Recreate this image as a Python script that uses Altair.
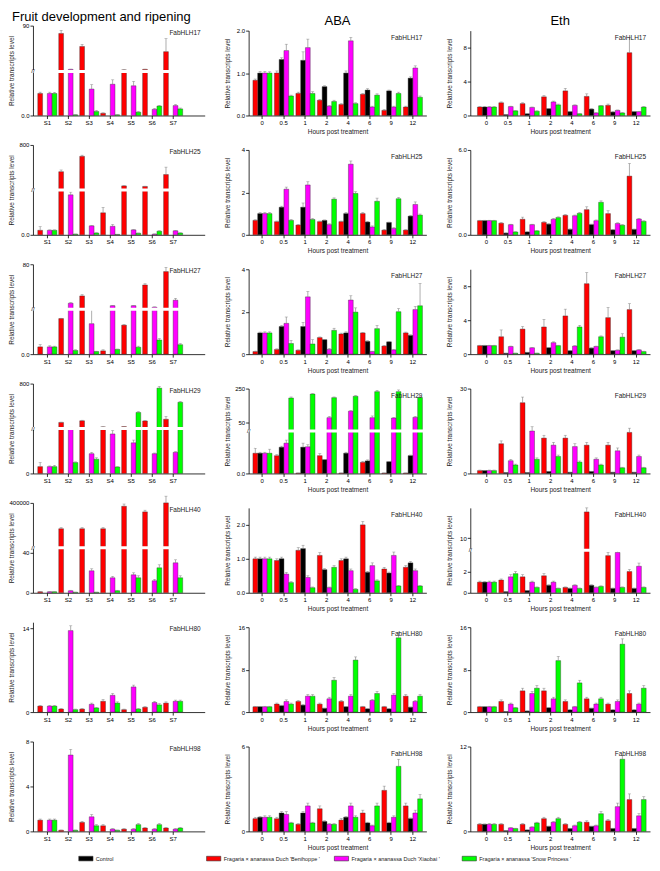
import altair as alt
import pandas as pd

FONT = "Liberation Sans"
GENOTYPES = ["Control", "Fragaria × ananassa Duch 'Benihoppe '",
             "Fragaria × ananassa Duch 'Xiaobai '", "Fragaria × ananassa 'Snow Princess '"]
COLORS = ["#000000", "#ff0000", "#ff00ff", "#00ff00"]
STAGES = ["S1", "S2", "S3", "S4", "S5", "S6", "S7"]
HOURS = ["0", "0.5", "1", "2", "4", "6", "9", "12"]
GENES = ["FabHLH17", "FabHLH25", "FabHLH27", "FabHLH29", "FabHLH40", "FabHLH80", "FabHLH98"]
COLUMN_TITLES = ["Fruit development and ripening", "ABA", "Eth"]

# ---------------- Fruit development (red, magenta, green) ----------------
fruit_17 = [[1.0, 75, 50, 0.1, 5, 6, 40], [1.0, 6, 1.2, 1.42, 1.35, 0.28, 0.45], [1.0, 0.03, 0.18, 0.03, 0.15, 0.43, 0.3]]
fruit_17_err = [[0.06, 6, 4, 0.02, 0.5, 0.5, 25], [0.06, 0.5, 0.2, 0.2, 0.2, 0.04, 0.05], [0.05, 0.01, 0.05, 0.01, 0.03, 0.03, 0.04]]
fruit_25 = [[1.0, 330, 600, 4.9, 80, 70, 280], [1.0, 8.9, 2.0, 1.9, 1.1, 0.15, 0.9], [1.0, 0.15, 0.4, 0.1, 0.35, 0.8, 0.4]]
fruit_25_err = [[0.8, 30, 20, 1.2, 5, 5, 130], [0.1, 0.6, 0.1, 0.4, 0.1, 0.05, 0.1], [0.1, 0.02, 0.05, 0.02, 0.05, 0.1, 0.05]]
fruit_27 = [[1.0, 4.9, 28, 0.45, 4.0, 46, 68], [1.0, 16, 4.2, 12, 12, 9.5, 21], [1.0, 0.5, 0.35, 0.65, 0.95, 1.95, 1.3]]
fruit_27_err = [[0.3, 0.05, 2, 0.15, 0.1, 2, 7], [0.15, 1, 3, 0.5, 0.5, 0.5, 3], [0.1, 0.1, 0.05, 0.05, 0.15, 0.2, 0.15]]
fruit_29 = [[1.0, 114, 143, 35, 40, 140, 170], [1.0, 25, 2.9, 5.8, 4.5, 2.9, 3.1], [1.0, 1.6, 2.1, 0.95, 290, 720, 470]]
fruit_29_err = [[0.6, 5, 10, 3, 3, 8, 50], [0.1, 2, 0.2, 0.5, 0.4, 0.1, 0.1], [0.2, 0.1, 0.2, 0.05, 15, 30, 15]]
fruit_40 = [[1.0, 170000, 170000, 170000, 370000, 320000, 400000], [1.0, 2, 22, 15, 18, 12, 30], [1.0, 0.5, 0.5, 2, 15, 25, 15]]
fruit_40_err = [[0.3, 10000, 10000, 10000, 20000, 15000, 60000], [0.2, 0.5, 2, 1.5, 2, 1.5, 3], [0.2, 0.1, 0.1, 0.5, 2, 3, 2]]
fruit_80 = [[1.0, 0.5, 0.5, 1.8, 0.4, 0.8, 1.5], [1.0, 13.6, 1.3, 2.8, 4.2, 1.6, 1.8], [1.0, 0.4, 0.7, 1.5, 0.5, 1.2, 1.8]]
fruit_80_err = [[0.1, 0.1, 0.1, 0.3, 0.1, 0.1, 0.2], [0.1, 0.8, 0.2, 0.3, 0.3, 0.2, 0.2], [0.1, 0.1, 0.1, 0.2, 0.1, 0.2, 0.2]]
fruit_98 = [[1.0, 0.1, 0.8, 0.5, 0.2, 0.3, 0.3], [1.0, 6.8, 1.3, 0.2, 0.2, 0.2, 0.2], [1.0, 0.1, 0.5, 0.1, 0.6, 0.6, 0.3]]
fruit_98_err = [[0.1, 0.02, 0.1, 0.1, 0.05, 0.05, 0.05], [0.1, 0.5, 0.2, 0.05, 0.05, 0.05, 0.05], [0.1, 0.02, 0.1, 0.02, 0.1, 0.1, 0.05]]

# ---------------- ABA (control, red, magenta, green) ----------------
aba_17 = [[1.0, 1.32, 1.3, 0.68, 1.0, 0.6, 0.58, 0.88], [0.83, 1.0, 0.52, 0.36, 0.26, 0.5, 0.12, 0.2],
          [1.0, 1.53, 1.6, 0.22, 1.76, 0.2, 0.2, 1.12], [1.0, 0.46, 0.52, 0.33, 0.28, 0.48, 0.52, 0.43]]
aba_17_err = [[0.04, 0.04, 0.2, 0.02, 0.05, 0.03, 0.02, 0.03], [0.03, 0.05, 0.03, 0.02, 0.02, 0.02, 0.02, 0.02],
              [0.04, 0.15, 0.2, 0.02, 0.08, 0.02, 0.02, 0.05], [0.03, 0.02, 0.04, 0.03, 0.02, 0.03, 0.03, 0.03]]
aba_25 = [[1.0, 1.3, 1.3, 0.68, 1.0, 0.6, 0.58, 0.88], [0.68, 0.62, 0.46, 0.62, 0.62, 1.0, 0.22, 0.22],
          [1.0, 2.15, 2.35, 0.48, 3.33, 0.37, 0.3, 1.43], [1.0, 0.68, 0.72, 1.68, 1.95, 1.58, 1.7, 0.93]]
aba_25_err = [[0.05, 0.05, 0.2, 0.02, 0.05, 0.03, 0.02, 0.03], [0.03, 0.03, 0.03, 0.03, 0.03, 0.05, 0.03, 0.02],
              [0.05, 0.1, 0.15, 0.04, 0.15, 0.05, 0.04, 0.12], [0.05, 0.04, 0.05, 0.06, 0.08, 0.15, 0.06, 0.05]]
aba_27 = [[1.0, 1.3, 1.3, 0.68, 1.0, 0.6, 0.58, 0.88], [0.12, 0.22, 0.18, 0.78, 0.95, 1.0, 0.38, 1.0],
          [1.0, 1.45, 2.7, 0.22, 2.55, 0.12, 0.2, 2.1], [1.0, 0.5, 0.48, 1.12, 1.98, 1.2, 2.0, 2.28]]
aba_27_err = [[0.04, 0.05, 0.2, 0.02, 0.05, 0.03, 0.02, 0.03], [0.02, 0.03, 0.02, 0.03, 0.04, 0.03, 0.03, 0.04],
              [0.05, 0.3, 0.25, 0.05, 0.2, 0.02, 0.03, 0.15], [0.05, 0.15, 0.2, 0.1, 0.2, 0.15, 0.15, 1.05]]
aba_29 = [[1.0, 1.3, 1.3, 0.68, 1.0, 0.62, 0.58, 0.88], [1.0, 0.88, 0.02, 0.88, 0.02, 0.55, 0.02, 0.02],
          [1.0, 1.5, 1.32, 80, 118, 80, 78, 82], [1.0, 195, 218, 197, 205, 232, 232, 198]]
aba_29_err = [[0.05, 0.05, 0.2, 0.02, 0.05, 0.05, 0.02, 0.03], [0.25, 0.05, 0.0, 0.1, 0.0, 0.05, 0.0, 0.0],
              [0.05, 0.15, 0.1, 8, 4, 10, 4, 6], [0.2, 6, 3, 4, 4, 8, 10, 4]]
aba_40 = [[1.0, 1.0, 1.3, 0.68, 1.0, 0.6, 0.58, 0.88], [1.0, 0.95, 1.25, 1.1, 0.95, 2.0, 0.7, 0.75],
          [1.0, 0.55, 0.45, 0.15, 0.65, 0.8, 1.1, 0.65], [1.0, 0.3, 0.15, 0.75, 0.1, 0.35, 0.2, 0.2]]
aba_40_err = [[0.05, 0.05, 0.1, 0.03, 0.05, 0.03, 0.03, 0.04], [0.05, 0.05, 0.08, 0.08, 0.05, 0.1, 0.05, 0.05],
              [0.05, 0.05, 0.05, 0.02, 0.05, 0.08, 0.1, 0.05], [0.05, 0.03, 0.02, 0.05, 0.02, 0.03, 0.02, 0.02]]
aba_80 = [[1.0, 1.2, 1.3, 0.7, 1.0, 0.6, 0.6, 0.9], [1.0, 1.5, 2.0, 1.5, 2.0, 1.0, 1.0, 3.0],
          [1.0, 2.0, 3.0, 2.5, 3.0, 2.2, 3.2, 2.0], [1.0, 1.5, 3.0, 6.0, 9.8, 3.5, 14.0, 3.0]]
aba_80_err = [[0.05, 0.1, 0.1, 0.05, 0.05, 0.05, 0.05, 0.05], [0.1, 0.2, 0.2, 0.2, 0.2, 0.1, 0.1, 0.3],
              [0.1, 0.3, 0.3, 0.3, 0.3, 0.2, 0.3, 0.2], [0.1, 0.2, 0.3, 0.5, 0.6, 0.4, 1.0, 0.3]]
aba_98 = [[1.0, 1.3, 1.3, 0.7, 1.0, 0.6, 0.6, 0.9], [0.9, 0.9, 0.5, 1.6, 0.8, 1.3, 2.9, 1.8],
          [1.0, 1.2, 1.8, 0.5, 1.8, 0.4, 1.0, 1.3], [1.0, 0.6, 0.6, 0.5, 1.0, 1.8, 4.6, 2.3]]
aba_98_err = [[0.05, 0.1, 0.1, 0.05, 0.05, 0.05, 0.05, 0.05], [0.1, 0.1, 0.05, 0.2, 0.1, 0.2, 0.3, 0.2],
              [0.1, 0.2, 0.2, 0.05, 0.2, 0.05, 0.1, 0.2], [0.1, 0.05, 0.05, 0.05, 0.1, 0.2, 0.5, 0.3]]

# ---------------- Eth (control, red, magenta, green) ----------------
eth_17 = [[1.0, 0.1, 0.2, 0.8, 0.45, 0.75, 0.4, 0.45], [1.0, 1.5, 1.4, 2.2, 2.9, 2.25, 1.2, 7.4],
          [1.0, 1.05, 0.95, 1.6, 1.2, 0.3, 0.6, 0.45], [1.0, 0.55, 0.5, 1.25, 0.2, 1.15, 0.3, 1.0]]
eth_17_err = [[0.05, 0.02, 0.03, 0.05, 0.05, 0.05, 0.05, 0.05], [0.05, 0.1, 0.1, 0.15, 0.3, 0.3, 0.15, 1.8],
              [0.05, 0.05, 0.05, 0.1, 0.05, 0.03, 0.05, 0.05], [0.05, 0.05, 0.05, 0.1, 0.02, 0.05, 0.05, 0.05]]
eth_25 = [[1.0, 0.12, 0.2, 0.75, 0.38, 0.72, 0.35, 0.38], [1.0, 0.82, 1.1, 0.88, 1.38, 1.78, 1.5, 4.15],
          [1.0, 0.72, 0.72, 1.1, 1.35, 1.0, 0.8, 1.12], [1.0, 0.2, 0.28, 1.22, 1.52, 2.3, 0.68, 0.95]]
eth_25_err = [[0.03, 0.02, 0.02, 0.04, 0.04, 0.04, 0.03, 0.03], [0.03, 0.05, 0.15, 0.05, 0.05, 0.2, 0.2, 0.9],
              [0.03, 0.03, 0.03, 0.05, 0.05, 0.05, 0.05, 0.05], [0.03, 0.02, 0.02, 0.05, 0.05, 0.1, 0.04, 0.04]]
eth_27 = [[1.0, 0.1, 0.2, 0.75, 0.4, 0.7, 0.4, 0.4], [1.0, 2.05, 2.95, 3.2, 4.5, 8.3, 4.3, 5.25],
          [1.0, 0.9, 0.75, 1.35, 0.95, 0.9, 0.45, 0.5], [1.0, 0.1, 0.1, 1.0, 3.2, 2.05, 2.0, 0.3]]
eth_27_err = [[0.05, 0.02, 0.02, 0.05, 0.05, 0.05, 0.05, 0.05], [0.05, 0.8, 0.3, 0.9, 0.8, 1.3, 1.2, 0.7],
              [0.05, 0.05, 0.05, 0.1, 0.05, 0.05, 0.05, 0.05], [0.05, 0.02, 0.02, 0.05, 0.2, 0.1, 0.4, 0.05]]
eth_29 = [[1.0, 0.3, 0.3, 0.7, 0.4, 0.7, 0.4, 0.4], [1.0, 10.5, 25, 12.5, 12.5, 10, 10, 14.5],
          [1.0, 4.5, 15, 10, 9.5, 5, 8, 6], [1.0, 3, 5, 6, 4, 3, 2, 2]]
eth_29_err = [[0.1, 0.05, 0.05, 0.05, 0.05, 0.05, 0.05, 0.05], [0.2, 1, 2, 1, 1, 1, 1, 1.5],
              [0.2, 0.5, 1.5, 1, 1, 0.5, 1, 0.5], [0.2, 0.3, 0.5, 0.5, 0.4, 0.3, 0.2, 0.2]]
eth_40 = [[1.0, 0.1, 0.2, 0.7, 0.4, 0.7, 0.4, 0.4], [1.0, 1.2, 1.5, 1.6, 0.5, 23, 3.5, 2.0],
          [1.0, 1.5, 1.0, 1.0, 0.7, 0.5, 3.8, 2.5], [1.0, 1.8, 0.5, 0.4, 0.4, 0.6, 0.5, 0.5]]
eth_40_err = [[0.05, 0.02, 0.02, 0.05, 0.05, 0.05, 0.05, 0.05], [0.1, 0.1, 0.2, 0.2, 0.05, 2, 0.3, 0.2],
              [0.1, 0.2, 0.1, 0.1, 0.05, 0.05, 0.3, 0.3], [0.1, 0.2, 0.05, 0.05, 0.05, 0.05, 0.05, 0.05]]
eth_80 = [[1.0, 0.1, 0.2, 0.8, 0.4, 0.7, 0.4, 0.4], [1.0, 2.0, 4.0, 4.0, 2.0, 2.5, 1.5, 3.5],
          [1.0, 1.5, 3.5, 2.5, 1.0, 1.5, 2.0, 1.5], [1.0, 0.8, 4.5, 9.7, 5.5, 2.5, 12.8, 4.5]]
eth_80_err = [[0.05, 0.02, 0.02, 0.05, 0.05, 0.05, 0.05, 0.05], [0.1, 0.3, 0.5, 0.5, 0.3, 0.3, 0.2, 0.5],
              [0.1, 0.2, 0.4, 0.3, 0.1, 0.2, 0.3, 0.2], [0.1, 0.1, 0.5, 0.8, 0.5, 0.3, 1.0, 0.5]]
eth_98 = [[1.0, 0.1, 0.2, 0.7, 0.4, 0.7, 0.4, 0.4], [1.0, 1.0, 1.0, 1.8, 1.0, 1.3, 1.5, 4.5],
          [1.0, 0.5, 0.6, 1.3, 0.8, 0.8, 3.5, 2.2], [1.0, 0.4, 1.2, 1.8, 1.3, 2.5, 10.2, 4.5]]
eth_98_err = [[0.05, 0.02, 0.02, 0.05, 0.05, 0.05, 0.05, 0.05], [0.1, 0.1, 0.1, 0.2, 0.1, 0.2, 0.2, 0.8],
              [0.1, 0.05, 0.05, 0.1, 0.1, 0.1, 0.5, 0.3], [0.1, 0.05, 0.1, 0.2, 0.1, 0.3, 0.5, 0.4]]

# ---------------- y axes: (domain breakpoints, share of height below the break, ticks, lower fmt, upper fmt)
fruit_axes = [
    ([0, 2, 90], 0.49, [0, 0.5, 1.0, 1.5, 30, 60, 90], ".1f", "d"),
    ([0, 10, 800], 0.5, [0, 2.5, 5.0, 7.5, 200, 400, 600, 800], ".1f", "d"),
    ([0, 6.2, 80], 0.5, [0, 2.5, 5.0, 20, 40, 60, 80], ".1f", "d"),
    ([0, 6.6, 800], 0.5, [0, 2, 4, 6, 200, 400, 600, 800], "d", "d"),
    ([0, 45, 400000], 0.5, [0, 10, 20, 30, 40, 100000, 200000, 300000, 400000], "d", "d"),
    ([0, 15], None, [0, 2, 4, 6, 8, 10, 12, 14], "d", "d"),
    ([0, 8], None, [0, 2, 4, 6, 8], "d", "d"),
]
aba_axes = [
    ([0, 2.0], None, [0, 0.5, 1.0, 1.5, 2.0], ".1f", ".1f"),
    ([0, 4], None, [0, 1, 2, 3, 4], "d", "d"),
    ([0, 4], None, [0, 1, 2, 3, 4], "d", "d"),
    ([0, 2.1, 250], 0.5, [0, 0.5, 1.0, 1.5, 50, 100, 150, 200, 250], ".1f", "d"),
    ([0, 2.5], None, [0, 0.5, 1.0, 1.5, 2.0, 2.5], ".1f", ".1f"),
    ([0, 16], None, [0, 4, 8, 12, 16], "d", "d"),
    ([0, 6], None, [0, 2, 4, 6], "d", "d"),
]
eth_axes = [
    ([0, 10], None, [0, 2, 4, 6, 8, 10], "d", "d"),
    ([0, 6], None, [0, 1, 2, 3, 4, 5, 6], ".1f", ".1f"),
    ([0, 10], None, [0, 2, 4, 6, 8, 10], "d", "d"),
    ([0, 30], None, [0, 5, 10, 15, 20, 25, 30], "d", "d"),
    ([0, 4, 25], 0.5, [0, 1, 2, 3, 10, 20], "d", "d"),
    ([0, 16], None, [0, 4, 8, 12, 16], "d", "d"),
    ([0, 12], None, [0, 2, 4, 6, 8, 10, 12], "d", "d"),
]

fruit_vals = [fruit_17, fruit_25, fruit_27, fruit_29, fruit_40, fruit_80, fruit_98]
fruit_errs = [fruit_17_err, fruit_25_err, fruit_27_err, fruit_29_err, fruit_40_err, fruit_80_err, fruit_98_err]
aba_vals = [aba_17, aba_25, aba_27, aba_29, aba_40, aba_80, aba_98]
aba_errs = [aba_17_err, aba_25_err, aba_27_err, aba_29_err, aba_40_err, aba_80_err, aba_98_err]
eth_vals = [eth_17, eth_25, eth_27, eth_29, eth_40, eth_80, eth_98]
eth_errs = [eth_17_err, eth_25_err, eth_27_err, eth_29_err, eth_40_err, eth_80_err, eth_98_err]

H = 90
W_LEFT, W_MID, W_RIGHT = 172, 178, 180
LEGEND = alt.Legend(orient="none", legendX=47, legendY=828, direction="horizontal", title=None,
                    columns=4, gridAlign="all",
                    symbolType="M-1.3,-0.42H1.3V0.42H-1.3Z", symbolSize=120, symbolStrokeColor="#333",
                    symbolStrokeWidth=0.6, labelFontSize=5.5, labelFont=FONT, columnPadding=12,
                    labelLimit=300, symbolOpacity=1, labelColor="#222")

# band layout per column: (paddingInner, paddingOuter, align)
BANDS = [(0.09, 0.64, 0.18), (0.13, 0.2, 0.5), (0.15, 0.28, 0.6)]


def panel(cats, series, vals, errs, axis_spec, gene, width, top, xtitle, lab_size, band, title=None):
    domain, frac, ticks, fmt_lo, fmt_hi = axis_spec
    rows = []
    for si, s in enumerate(series):
        for ci, c in enumerate(cats):
            v = vals[si][ci]
            e = errs[si][ci]
            rows.append({"cat": c, "series": s, "value": v, "hi": v + e})
    df = pd.DataFrame(rows)
    if frac is None:
        yscale = alt.Scale(domain=domain, range=[H, top], nice=False, zero=True)
        lexpr = f"format(datum.value, '{fmt_lo}')"
    else:
        ybreak = H - frac * (H - top)
        yscale = alt.Scale(domain=domain, range=[H, ybreak, top], nice=False, zero=True)
        lexpr = (f"datum.value < {domain[1]} ? format(datum.value, '{fmt_lo}') : "
                 f"format(datum.value, '{fmt_hi}')")
    pi, po, al = band
    xenc = alt.X("cat:N", sort=cats, scale=alt.Scale(paddingInner=pi, paddingOuter=po, align=al),
                 axis=alt.Axis(title=xtitle if xtitle else None, labelAngle=0, labelFontSize=6))
    xoff = alt.XOffset("series:N", sort=series, scale=alt.Scale(paddingInner=0, paddingOuter=0))
    yaxis = alt.Axis(title="Relative transcripts level", values=ticks, labelExpr=lexpr,
                     labelOverlap=False, labelFlush=False, labelFontSize=lab_size, titleX=-18)
    base = alt.Chart(df)
    bars = base.mark_bar(stroke="#333", strokeWidth=0.4, opacity=1).encode(
        x=xenc, xOffset=xoff,
        y=alt.Y("value:Q", scale=yscale, axis=yaxis),
        color=alt.Color("series:N", scale=alt.Scale(domain=GENOTYPES, range=COLORS), legend=LEGEND),
    )
    err = base.mark_rule(color="#777", strokeWidth=0.6).encode(
        x=xenc, xOffset=xoff, y="value:Q", y2="hi:Q")
    cap = base.mark_tick(color="#777", thickness=0.6, size=3, orient="horizontal").encode(
        x=xenc, xOffset=xoff, y="hi:Q")
    layers = [bars, err, cap]
    if frac is not None:
        bdf = pd.DataFrame({"b": [domain[1]], "s": ["//"]})
        brk = alt.Chart(bdf).mark_rule(color="white", strokeWidth=3).encode(
            y=alt.Y("b:Q"), x=alt.value(-4), x2=alt.value(width))
        slash = alt.Chart(bdf).mark_text(fontSize=6, font=FONT, color="#000").encode(
            y=alt.Y("b:Q"), x=alt.value(0), text="s:N")
        layers += [brk, slash]
    lab = alt.Chart(pd.DataFrame({"g": [gene]})).mark_text(
        align="right", baseline="top", fontSize=6.5, font=FONT, color="#222").encode(
        text="g:N", x=alt.value(width - 4), y=alt.value(top + 4))
    layers.append(lab)
    if title is not None:
        txt, tx, ty, al_ = title
        layers.append(alt.Chart(pd.DataFrame({"t": [txt]})).mark_text(
            align=al_, baseline="alphabetic", fontSize=13, font=FONT, color="#000").encode(
            text="t:N", x=alt.value(tx), y=alt.value(ty)))
    return alt.layer(*layers).properties(width=width, height=H)


cells = []
for i, gene in enumerate(GENES):
    t0 = t1 = t2 = None
    if i == 0:
        t0 = (COLUMN_TITLES[0], -21, -5, "left")
        t1 = (COLUMN_TITLES[1], W_MID / 2, -1, "center")
        t2 = (COLUMN_TITLES[2], W_RIGHT / 2, -1, "center")
    cells.append(panel(STAGES, GENOTYPES[1:], fruit_vals[i], fruit_errs[i], fruit_axes[i], gene,
                       W_LEFT, 0, None, 6, BANDS[0], t0))
    cells.append(panel(HOURS, GENOTYPES, aba_vals[i], aba_errs[i], aba_axes[i], gene,
                       W_MID, 5, "Hours post treatment", 6, BANDS[1], t1))
    cells.append(panel(HOURS, GENOTYPES, eth_vals[i], eth_errs[i], eth_axes[i], gene,
                       W_RIGHT, 5, "Hours post treatment", 6, BANDS[2], t2))

chart = alt.concat(*cells, columns=3, spacing={"row": 29.5, "column": 44}, bounds="flush")

chart = chart.configure_view(stroke=None).configure_axis(
    labelFont=FONT, titleFont=FONT, labelFontSize=6, titleFontSize=6.5, titleFontWeight="normal",
    domainColor="#000", tickColor="#000", labelColor="#000", titleColor="#222", tickSize=3,
    grid=False, labelPadding=1, titlePadding=2, domainWidth=0.8, tickWidth=0.8
).configure_axisX(titlePadding=3).properties(padding={"left": 0, "top": 2, "right": 0, "bottom": 0})

chart.save("out.html", embed_options={"renderer": "svg", "actions": False})
